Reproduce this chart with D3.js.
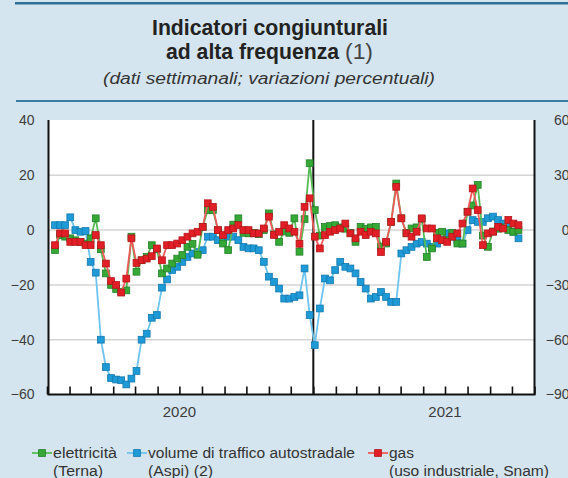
<!DOCTYPE html>
<html>
<head>
<meta charset="utf-8">
<script src="https://cdn.jsdelivr.net/npm/d3@7"></script>
<style>
body { margin: 0; background: #d5e5ef; }
svg { display: block; }
text { font-family: 'Liberation Sans Narrow', 'Arial Narrow', 'Liberation Sans', Arial, sans-serif; fill: #333; }
</style>
</head>
<body>
<div id="chart"></div>
<script>
// weekly observations, first week ending 12 Jan 2020
var firstWeek = "2020-01-12";

// elettricità (Terna), % change, left axis
var elettricita = [-7.3,-1.8,-2.4,-3,-3.7,-4.3,-4.9,-3,4.3,-7,
  -15.8,-20,-21.5,-22.5,-22,-2.4,-15.2,-11,-9.8,-5.5,
  -7,-15.8,-14,-12.2,-10.4,-9.1,-6.1,-5,-9,1.2,
  7.3,7.3,0,-4.9,-7.3,2,4.3,-1,-1.2,-1,
  -1.5,0,6.1,-1.5,-4.3,-0.5,-1,4.3,-7.9,4,
  24.4,7.3,-2,1.2,1.5,1.8,1,0.5,-1,-4.3,
  1.2,0.5,1,1.2,-6,-4.9,3,17,4.3,-1,
  0.6,1,4,-9.8,-6.7,-1,-0.6,-3.7,-1,-4.9,
  -4.9,6.7,9,16.5,-2,-6.1,-0.5,0.5,1,0,
  -0.6,0];

// volume di traffico autostradale (Aspi), % change, right axis
var traffico = [2.7,2.7,2.7,7,0,-0.9,-0.5,-17.4,-23.3,-60,
  -75,-81,-81.8,-82.2,-84.5,-81.3,-77.1,-60,-56.7,-48,
  -46.5,-31.5,-27,-21.9,-20.1,-17.4,-14.7,-12.8,-11.9,-11,
  -3.6,-3.6,-5.5,-5.5,-3.6,-3.6,-5.5,-9.2,-10,-10,
  -11,-17.4,-25.5,-28.4,-32,-37.5,-37.5,-36.6,-35.7,-21,
  -46.5,-63,-42.9,-26.5,-27.5,-21.9,-17.4,-20.1,-21,-23.7,
  -28.4,-32,-37.5,-36.6,-33.9,-36.6,-39.3,-39.3,-12.8,-11,
  -9.2,-7.4,-6.5,-7.4,-9.2,-7.4,-5.5,-1.8,-3.6,-5.5,
  -7.4,0,5.5,4.5,4.5,6.5,7.4,5.5,3.6,1.8,
  -0.9,-4.5];

// gas (uso industriale, Snam), % change, left axis
var gas = [-5.5,-1.2,-1.2,-4.3,-4.3,-4.3,-5.5,-5.5,-1.8,-5.5,
  -12.2,-18.6,-20,-22.8,-17.7,-3,-12,-11,-10.4,-9.5,
  -6.7,-11,-5.5,-5.5,-4.9,-3.7,-2.4,-1.2,-0.6,1.2,
  9.8,8.5,0,-1.8,0,0.6,1.8,0,0,-1.2,
  -1.2,0.6,4.9,-1.8,-0.6,1.8,0.6,-0.6,-5,8.5,
  11.6,-2.4,-6.7,-1.8,-0.6,0,0.6,2.4,-1.2,-3,
  -0.6,-1.8,-0.6,-1.2,-8,-4.3,3,15.8,4.3,-1.2,
  -2.4,-0.6,4.3,0.6,0.6,-3,-3.7,-4.3,-2.4,-1.2,
  2.4,6.7,15.2,7.3,-5.5,-1.2,-0.6,1.2,0.6,3.7,
  2.4,1.8];

var leftTicks = [40, 20, 0, -20, -40, -60];
var rightTicks = [60, 30, 0, -30, -60, -90];
var gridTicks = [20, 0, -20, -40];
var yearLabels = ["2020", "2021"];

var W = 568, H = 478;
var svg = d3.select("#chart").append("svg")
    .attr("width", W)
    .attr("height", H);

var parse = d3.timeParse("%Y-%m-%d");
var start = parse(firstWeek);
var dates = elettricita.map(function(d, i) { return d3.timeDay.offset(start, 7 * i); });

var x = d3.scaleTime()
    .domain([new Date(2020, 0, 1), new Date(2021, 10, 1)])
    .range([47, 534.5]);
var yL = d3.scaleLinear().domain([-60, 40]).range([394.5, 120.5]);
var yR = d3.scaleLinear().domain([-90, 60]).range([394.5, 120.5]);

// header rules
svg.append("rect").attr("x", 15).attr("y", 2).attr("width", W - 15).attr("height", 2.5).attr("fill", "#2e6f95");
svg.append("rect").attr("x", 16).attr("y", 100).attr("width", W - 16).attr("height", 2).attr("fill", "#3b7ca3");

// titles
svg.append("text").attr("x", 270).attr("y", 35).attr("text-anchor", "middle")
    .attr("font-size", 22).attr("font-weight", "bold").style("fill", "#222")
    .attr("textLength", 236).attr("lengthAdjust", "spacingAndGlyphs")
    .text("Indicatori congiunturali");
svg.append("text").attr("x", 166).attr("y", 59)
    .attr("font-size", 22).attr("font-weight", "bold").style("fill", "#222")
    .attr("textLength", 173).attr("lengthAdjust", "spacingAndGlyphs")
    .text("ad alta frequenza");
svg.append("text").attr("x", 345).attr("y", 59)
    .attr("font-size", 22).style("fill", "#444")
    .attr("textLength", 28).attr("lengthAdjust", "spacingAndGlyphs")
    .text("(1)");
svg.append("text").attr("x", 269).attr("y", 84).attr("text-anchor", "middle")
    .attr("font-size", 16).attr("font-style", "italic").style("fill", "#333")
    .attr("textLength", 332).attr("lengthAdjust", "spacingAndGlyphs")
    .text("(dati settimanali; variazioni percentuali)");

// plot area
svg.append("rect").attr("x", 48).attr("y", 120).attr("width", 486.5).attr("height", 274.5).attr("fill", "#fff");

svg.append("g").selectAll("line").data(gridTicks).enter().append("line")
    .attr("x1", 49).attr("x2", 534)
    .attr("y1", function(d) { return yL(d); })
    .attr("y2", function(d) { return yL(d); })
    .attr("stroke", "#d4d4d4").attr("stroke-width", 1.5);

// left axis labels
var gl = svg.append("g").attr("transform", "translate(48.5,0)")
    .call(d3.axisLeft(yL).tickValues(leftTicks).tickSize(0).tickPadding(14));
gl.select(".domain").remove();
gl.selectAll("text").attr("font-size", 14).style("fill", "#3c3c3c")
    .style("font-family", "'Liberation Sans', Arial, sans-serif");

// right axis labels (cut by the edge like the original)
var gr = svg.append("g").attr("transform", "translate(534.5,0)")
    .call(d3.axisRight(yR).tickValues(rightTicks).tickSize(0).tickFormat(d3.format("d")));
gr.select(".domain").remove();
gr.selectAll("text").attr("text-anchor", "end").attr("x", 35).attr("font-size", 14)
    .style("fill", "#3c3c3c").style("font-family", "'Liberation Sans', Arial, sans-serif");

// bottom axis with monthly ticks pointing up
var gb = svg.append("g").attr("transform", "translate(0,394.5)")
    .call(d3.axisBottom(x).ticks(d3.timeMonth.every(1)).tickSize(-8).tickFormat(""));
gb.select(".domain").remove();
gb.selectAll(".tick line").attr("stroke", "#111").attr("stroke-width", 1.6);

svg.append("g").selectAll("text").data(yearLabels).enter().append("text")
    .attr("x", function(d) { return x(new Date(+d, 6, 1)); })
    .attr("y", 417).attr("text-anchor", "middle").attr("font-size", 15)
    .style("fill", "#3c3c3c").style("font-family", "'Liberation Sans', Arial, sans-serif")
    .text(function(d) { return d; });

// frame
svg.append("path")
    .attr("d", "M48.5,120V394.5H534.5V120")
    .attr("fill", "none").attr("stroke", "#111").attr("stroke-width", 2);
svg.append("line")
    .attr("x1", x(new Date(2021, 0, 1))).attr("x2", x(new Date(2021, 0, 1)))
    .attr("y1", 120).attr("y2", 394.5)
    .attr("stroke", "#111").attr("stroke-width", 2);

var series = [
    { name: "traffico", values: traffico, y: yR, line: "#6cc4ef", fill: "#1e9ad6", stroke: "#1479ad" },
    { name: "elettricita", values: elettricita, y: yL, line: "#55bb55", fill: "#36a836", stroke: "#23812a" },
    { name: "gas", values: gas, y: yL, line: "#f05a5a", fill: "#e21f26", stroke: "#b3161b" }
];

series.forEach(function(s) {
    var pts = s.values.map(function(v, i) { return { date: dates[i], v: v }; });
    var line = d3.line()
        .x(function(d) { return x(d.date); })
        .y(function(d) { return s.y(d.v); });
    svg.append("path").datum(pts)
        .attr("d", line)
        .attr("fill", "none").attr("stroke", s.line).attr("stroke-width", 1.8);
    svg.append("g").selectAll("rect").data(pts).enter().append("rect")
        .attr("x", function(d) { return x(d.date) - 3.4; })
        .attr("y", function(d) { return s.y(d.v) - 3.4; })
        .attr("width", 6.8).attr("height", 6.8)
        .attr("fill", s.fill).attr("stroke", s.stroke).attr("stroke-width", 0.8);
});

// legend
var legend = [
    { x: 32, lines: ["elettricità", "(Terna)"], w: [64, 50], s: series[1] },
    { x: 127, lines: ["volume di traffico autostradale", "(Aspi) (2)"], w: [207, 65], s: series[0] },
    { x: 368, lines: ["gas", "(uso industriale, Snam)"], w: [25, 160], s: series[2] }
];
legend.forEach(function(l) {
    var g = svg.append("g").attr("transform", "translate(" + l.x + ",0)");
    g.append("line").attr("x1", 0).attr("x2", 20).attr("y1", 453).attr("y2", 453)
        .attr("stroke", l.s.line).attr("stroke-width", 1.8);
    g.append("rect").attr("x", 6.6).attr("y", 449.6).attr("width", 6.8).attr("height", 6.8)
        .attr("fill", l.s.fill).attr("stroke", l.s.stroke).attr("stroke-width", 0.8);
    l.lines.forEach(function(t, i) {
        g.append("text").attr("x", 21).attr("y", 457.5 + i * 18.5)
            .attr("font-size", 14).style("fill", "#333")
            .attr("textLength", l.w[i]).attr("lengthAdjust", "spacingAndGlyphs")
            .text(t);
    });
});
</script>
</body>
</html>
